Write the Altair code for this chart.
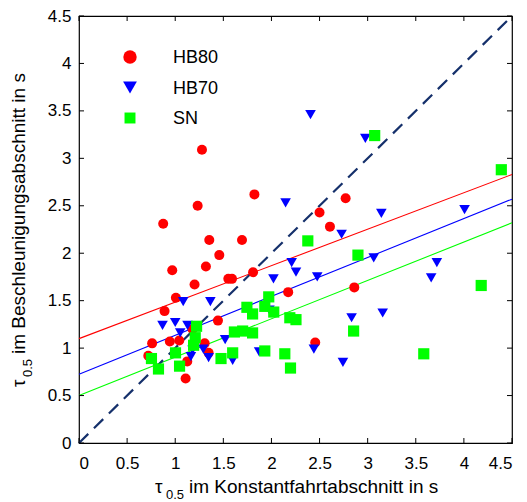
import altair as alt
import pandas as pd

# ---------------- data ----------------
hb80_x = [0.72, 0.76, 0.875, 0.889, 0.944, 0.969, 1.007, 1.042, 1.108, 1.125, 1.18, 1.201,
          1.233, 1.278, 1.306, 1.319, 1.347, 1.354, 1.444, 1.458, 1.552, 1.590, 1.694, 1.809,
          1.823, 2.174, 2.455, 2.50, 2.608, 2.771, 2.861]
hb80_y = [0.92, 1.05, 2.31, 1.39, 1.07, 1.82, 1.53, 1.08, 0.68, 0.86, 1.20, 1.67,
          2.50, 3.09, 1.05, 1.86, 0.95, 2.14, 1.29, 1.98, 1.73, 1.73, 2.14, 1.80,
          2.62, 1.59, 1.06, 2.43, 2.28, 2.58, 1.64]

hb70_x = [0.868, 1.0, 1.052, 1.083, 1.128, 1.163, 1.18, 1.292, 1.347, 1.365, 1.519, 1.597,
          1.872, 1.979, 2.021, 2.147, 2.21, 2.255, 2.406, 2.441, 2.476, 2.729, 2.743, 2.833,
          2.976, 3.063, 3.142, 3.156, 3.66, 3.719, 4.007]
hb70_y = [1.24, 1.27, 1.16, 1.49, 1.24, 0.91, 0.98, 0.99, 0.90, 1.49, 1.09, 0.87,
          0.96, 1.40, 1.73, 2.53, 1.90, 1.80, 3.46, 0.99, 1.75, 2.20, 0.85, 1.32,
          3.21, 1.95, 2.42, 1.37, 1.74, 1.90, 2.46]

sn_x = [0.753, 0.826, 1.003, 1.045, 1.191, 1.208, 1.222, 1.476, 1.597, 1.615, 1.701, 1.745,
        1.804, 1.804, 1.931, 1.931, 1.972, 2.024, 2.139, 2.191, 2.198, 2.255, 2.378, 2.854,
        2.899, 3.073, 3.583, 4.18, 4.389]
sn_y = [0.89, 0.78, 0.95, 0.81, 1.03, 1.11, 1.23, 0.89, 0.95, 1.17, 1.18, 1.43,
        1.16, 1.36, 1.44, 0.97, 1.54, 1.38, 0.94, 1.32, 0.79, 1.30, 2.13, 1.18,
        1.98, 3.24, 0.94, 1.66, 2.88]

groups = ["HB80", "HB70", "SN"]
group_colors = ["#ff0000", "#0000ff", "#00ff00"]
group_shapes = ["circle", "triangle-down", "square"]
group_sizes = [100, 125, 80]
legend_sizes = [180, 190, 120]

# fitted regression lines (endpoints at x = 0 and x = 4.5)
fit_x = [0.0, 4.5]
fit_hb80 = [1.10, 2.83]
fit_hb70 = [0.725, 2.57]
fit_sn = [0.50, 2.32]

diag_x = [0.0, 4.5]
diag_y = [0.0, 4.5]

tick_values = [0, 0.5, 1, 1.5, 2, 2.5, 3, 3.5, 4, 4.5]

# ---------------- layout ----------------
W, H = 433, 427
FONT = "Liberation Sans"
TF = 19   # title font size
SF = 13   # subscript font size

pts = pd.concat([
    pd.DataFrame({"x": hb80_x, "y": hb80_y, "g": "HB80"}),
    pd.DataFrame({"x": hb70_x, "y": hb70_y, "g": "HB70"}),
    pd.DataFrame({"x": sn_x, "y": sn_y, "g": "SN"}),
], ignore_index=True)

fits = pd.concat([
    pd.DataFrame({"x": fit_x, "y": fit_hb80, "g": "HB80"}),
    pd.DataFrame({"x": fit_x, "y": fit_hb70, "g": "HB70"}),
    pd.DataFrame({"x": fit_x, "y": fit_sn, "g": "SN"}),
], ignore_index=True)

diag = pd.DataFrame({"x": diag_x, "y": diag_y})
ticks = pd.DataFrame({"v": tick_values})

xs = alt.Scale(domain=[0, 4.5], nice=False, zero=False)
ys = alt.Scale(domain=[0, 4.5], nice=False, zero=False)
cs = alt.Scale(domain=groups, range=group_colors)
ss = alt.Scale(domain=groups, range=group_shapes)
zs = alt.Scale(domain=groups, range=group_sizes)

x_axis = alt.Axis(values=tick_values, format="~g", tickSize=0, domain=False, grid=False,
                  labelFontSize=17, labelFont=FONT, labelColor="black", labelPadding=12,
                  title=None)
y_axis = alt.Axis(values=tick_values, format="~g", tickSize=0, domain=False, grid=False,
                  labelFontSize=17, labelFont=FONT, labelColor="black", labelPadding=8,
                  title=None)

fit_layer = alt.Chart(fits).mark_line(strokeWidth=1.1).encode(
    x=alt.X("x:Q", scale=xs, axis=x_axis),
    y=alt.Y("y:Q", scale=ys, axis=y_axis),
    color=alt.Color("g:N", scale=cs, legend=None),
    detail="g:N",
)

diag_layer = alt.Chart(diag).mark_line(strokeWidth=2.2, strokeDash=[13, 8], color="#15306b").encode(
    x=alt.X("x:Q", scale=xs),
    y=alt.Y("y:Q", scale=ys),
)

pt_layer = alt.Chart(pts).mark_point(filled=True, opacity=1, strokeWidth=0).encode(
    x=alt.X("x:Q", scale=xs),
    y=alt.Y("y:Q", scale=ys),
    color=alt.Color("g:N", scale=cs, legend=None),
    shape=alt.Shape("g:N", scale=ss, legend=None),
    size=alt.Size("g:N", scale=zs, legend=None),
)

tick_len = 5
t_bottom = alt.Chart(ticks).mark_rule(color="black", strokeWidth=1).encode(
    x=alt.X("v:Q", scale=xs), y=alt.value(H), y2=alt.value(H - tick_len))
t_top = alt.Chart(ticks).mark_rule(color="black", strokeWidth=1).encode(
    x=alt.X("v:Q", scale=xs), y=alt.value(0), y2=alt.value(tick_len))
t_left = alt.Chart(ticks).mark_rule(color="black", strokeWidth=1).encode(
    y=alt.Y("v:Q", scale=ys), x=alt.value(0), x2=alt.value(tick_len))
t_right = alt.Chart(ticks).mark_rule(color="black", strokeWidth=1).encode(
    y=alt.Y("v:Q", scale=ys), x=alt.value(W), x2=alt.value(W - tick_len))

# legend drawn as its own small layers (symbol + label per entry)
LEG_X, LEG_Y0, LEG_DY, LEG_LABEL_X = 51, 41, 30.5, 94
legend_layers = []
for i, (g, col, shp, sz) in enumerate(zip(groups, group_colors, group_shapes, legend_sizes)):
    d = pd.DataFrame({"g": [g]})
    yy = LEG_Y0 + i * LEG_DY
    legend_layers.append(
        alt.Chart(d).mark_point(filled=True, opacity=1, strokeWidth=0, shape=shp,
                                color=col, size=sz).encode(
            x=alt.value(LEG_X), y=alt.value(yy)))
    legend_layers.append(
        alt.Chart(d).mark_text(align="left", baseline="middle", font=FONT, fontSize=18,
                               color="black", dy=1).encode(
            x=alt.value(LEG_LABEL_X), y=alt.value(yy), text="g:N"))

# axis titles with subscript
def txt(s, x, y, size, angle=0):
    return alt.Chart(pd.DataFrame({"t": [s]})).mark_text(
        align="left", baseline="alphabetic", font=FONT, fontSize=size, color="black",
        angle=angle,
    ).encode(x=alt.value(x), y=alt.value(y), text="t:N")

xt1 = txt("τ", 76, 477, TF)
xt2 = txt("0.5", 87, 483, SF)
xt3 = txt("im Konstantfahrtabschnitt in s", 110, 477, TF)

yt1 = txt("τ", -54, 371, TF, 270)
yt2 = txt("0.5", -47, 361, SF, 270)
yt3 = txt("im Beschleunigungsabschnitt in s", -54, 338, TF, 270)

chart = alt.layer(
    fit_layer, diag_layer, pt_layer, t_bottom, t_top, t_left, t_right,
    *legend_layers, xt1, xt2, xt3, yt1, yt2, yt3,
).properties(
    width=W, height=H, background="white",
    autosize=alt.AutoSizeParams(type="none"),
    padding={"left": 79, "top": 16, "right": 15, "bottom": 59},
).configure_view(
    stroke="black", strokeWidth=1.2
)

chart.save("out.html", embed_options={"renderer": "svg", "actions": False})
